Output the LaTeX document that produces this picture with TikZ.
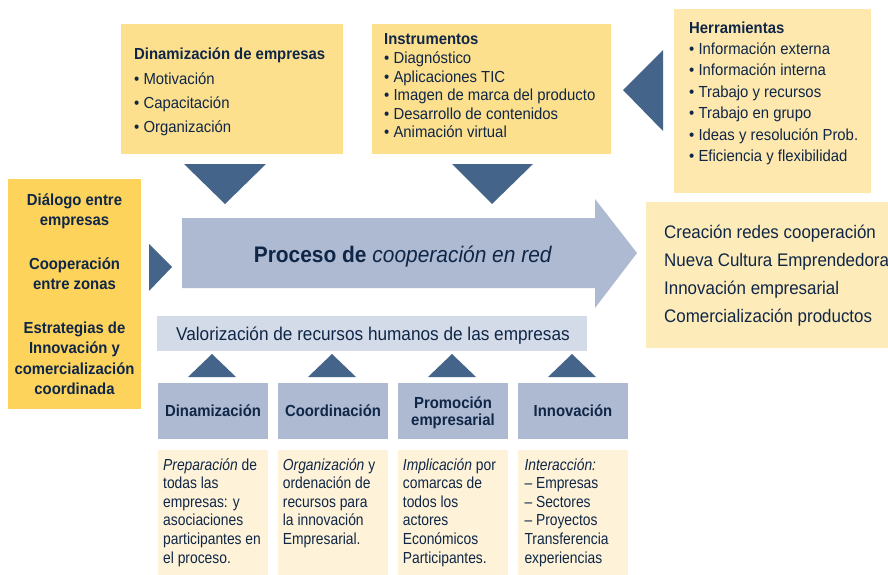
\documentclass[tikz,border=0pt]{standalone}
\usepackage{fontspec}
\setmainfont{Liberation Sans}[FakeStretch=0.93]
\newfontfamily\narrowfont{Liberation Sans}[FakeStretch=0.865]
\definecolor{navy}{HTML}{0F2647}
\definecolor{tricol}{HTML}{45648A}
\definecolor{ydeep}{HTML}{FDD35B}
\definecolor{ymid}{HTML}{FDE08D}
\definecolor{ylight}{HTML}{FEE8AE}
\definecolor{yres}{HTML}{FDEBB9}
\definecolor{cream}{HTML}{FEF3D8}
\definecolor{bluebox}{HTML}{AEBAD2}
\definecolor{bluelight}{HTML}{D4DBE8}
\newcommand\textlines[6][]{%
  \foreach \t [count=\i] in {#6}
    \node[txt,#1] (#2\i) at (#3,{#4+#5*(\i-1)}) {\t};}
\begin{document}
\begin{tikzpicture}[x=1pt,y=-1pt,
  box/.style={fill=#1, draw=none, inner sep=0, anchor=north west},
  txt/.style={text=navy, inner sep=0, anchor=base west, font=\fontsize{16}{18}\selectfont},
  ntxt/.style={txt, font=\fontsize{16}{18}\selectfont\narrowfont},
  ctxt/.style={txt, anchor=base, font=\fontsize{16}{18}\selectfont\bfseries},
  tri/.style={fill=tricol}]
\useasboundingbox (0,0) rectangle (888,575);
\fill[white] (0,0) rectangle (888,575);
% boxes
\node[box=ydeep, minimum width=133, minimum height=230] (left) at (8,179) {};
\node[box=ymid, minimum width=222, minimum height=130] (dinbox) at (121,24) {};
\node[box=ymid, minimum width=239, minimum height=130] (insbox) at (372,24) {};
\node[box=ylight, minimum width=197, minimum height=184] (herbox) at (674,9) {};
\node[box=yres, minimum width=242, minimum height=146] (resbox) at (646,202) {};
\node[box=bluelight, minimum width=430, minimum height=35] (valbox) at (157,316) {};
\foreach \x [count=\k] in {158,278,398,518} {
  \node[box=bluebox, minimum width=110, minimum height=56] (b\k) at (\x,383) {};
  \node[box=cream, minimum width=110, minimum height=125] (c\k) at (\x,450) {};
  \fill[tri] (\x+30,377) -- (\x+78,377) -- (\x+54,354) -- cycle;
}
% triangles
\fill[tri] (184,164) -- (266,164) -- (225,204) -- cycle;
\fill[tri] (452,164) -- (533,164) -- (492,204) -- cycle;
\fill[tri] (663,50) -- (663,131) -- (623,90) -- cycle;
\fill[tri] (149,244) -- (172,267) -- (149,291) -- cycle;
% big arrow
\fill[bluebox] (182,218) -- (595,218) -- (595,199) -- (637,253) -- (595,308) -- (595,288) -- (182,288) -- cycle;
\node[txt, anchor=base, font=\fontsize{22.5}{26}\selectfont] (proc) at (403,262.7) {\textbf{Proceso de} \textit{cooperación en red}};
\node[txt, anchor=base, font=\fontsize{18.5}{22}\selectfont] (val) at (373,340) {Valorización de recursos humanos de las empresas};
% top boxes text
\node[txt, font=\fontsize{16}{18}\selectfont\bfseries] (dint) at (134,60) {Dinamización de empresas};
\textlines{din}{134}{84.3}{24.3}{{• Motivación},{• Capacitación},{• Organización}}
\node[txt, font=\fontsize{16}{18}\selectfont\bfseries] (inst) at (384,45) {Instrumentos};
\textlines{ins}{384}{64}{18.5}{{• Diagnóstico},{• Aplicaciones TIC},{• Imagen de marca del producto},{• Desarrollo de contenidos},{• Animación virtual}}
\node[txt, font=\fontsize{16}{18}\selectfont\bfseries] (hert) at (689,33.3) {Herramientas};
\textlines{her}{689}{54.3}{21.5}{{• Información externa},{• Información interna},{• Trabajo y recursos},{• Trabajo en grupo},{• Ideas y resolución Prob.},{• Eficiencia y flexibilidad}}
% results
\textlines[font=\fontsize{18.2}{22}\selectfont]{res}{664}{238.5}{28}{{Creación redes cooperación},{Nueva Cultura Emprendedora},{Innovación empresarial},{Comercialización productos}}
% left box
\textlines[ctxt]{la}{74.5}{205}{20.3}{{Diálogo entre},{empresas}}
\textlines[ctxt]{lb}{74.5}{269.3}{20.3}{{Cooperación},{entre zonas}}
\textlines[ctxt]{lc}{74.5}{333.6}{20.3}{{Estrategias de},{Innovación y},{comercialización},{coordinada}}
% bottom labels
\node[ctxt] (bl1) at (213,416) {Dinamización};
\node[ctxt] (bl2) at (333,416) {Coordinación};
\textlines[ctxt]{bl3}{453}{408.3}{16.7}{{Promoción},{empresarial}}
\node[ctxt] (bl4) at (573,416) {Innovación};
% cream texts
\textlines[ntxt]{ca}{163}{470}{18.6}{{\textit{Preparación} de},{todas las},{empresas: y},{asociaciones},{participantes en},{el proceso.}}
\textlines[ntxt]{cb}{282.7}{470}{18.6}{{\textit{Organización} y},{ordenación de},{recursos para},{la innovación},{Empresarial.}}
\textlines[ntxt]{cc}{402.7}{470}{18.6}{{\textit{Implicación} por},{comarcas de},{todos los},{actores},{Económicos},{Participantes.}}
\textlines[ntxt]{cd}{524.3}{470}{18.6}{{\textit{Interacción:}},{– Empresas},{– Sectores},{– Proyectos},{Transferencia},{experiencias}}
\end{tikzpicture}
\end{document}
